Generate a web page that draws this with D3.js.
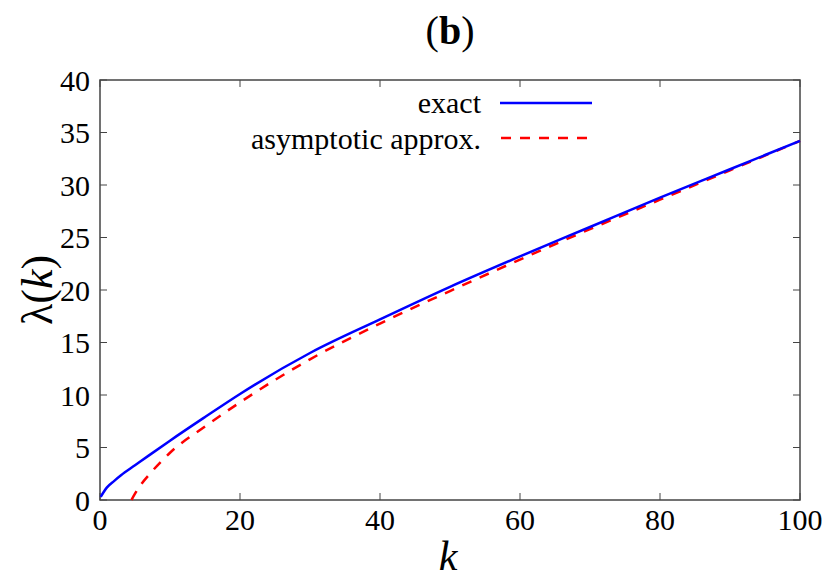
<!DOCTYPE html>
<html lang="en">
<head>
<meta charset="UTF-8">
<title>lambda(k)</title>
<script src="https://cdnjs.cloudflare.com/ajax/libs/d3/7.8.5/d3.min.js"></script>
<style>
  body { margin: 0; background: white; }
  svg text { font-family: "Liberation Serif", "DejaVu Serif", serif; fill: #000; }
</style>
</head>
<body>
<div id="chart"></div>
<script>
  // values
  const exactK   = [0.1, 1, 2, 3, 5, 7, 10, 15, 20, 30, 40, 50, 60, 70, 80, 90, 100];
  const exactL   = [0.3, 1.2, 1.8, 2.35, 3.3, 4.25, 5.65, 7.9, 10.1, 14.0, 17.2, 20.3, 23.2, 26.0, 28.8, 31.5, 34.2];
  const approxK  = [4.5, 5, 6, 7, 10, 15, 20, 30, 40, 50, 60, 70, 80, 90, 100];
  const approxL  = [0, 0.6, 1.6, 2.4, 4.5, 7.0, 9.3, 13.4, 16.8, 19.9, 22.9, 25.8, 28.6, 31.4, 34.2];
  const xTicks   = [0, 20, 40, 60, 80, 100];
  const yTicks   = [0, 5, 10, 15, 20, 25, 30, 35, 40];

  const W = 830, H = 581;
  const m = { left: 100, right: 30, top: 80, bottom: 81 };

  const svg = d3.select("#chart").append("svg")
      .attr("width", W).attr("height", H);

  const x = d3.scaleLinear().domain([0, 100]).range([m.left, W - m.right]);
  const y = d3.scaleLinear().domain([0, 40]).range([H - m.bottom, m.top]);

  const axisColor = "#444";
  const tickLen = 7;

  // ticks (inward, mirrored)
  const g = svg.append("g");
  xTicks.forEach(t => {
    g.append("line").attr("x1", x(t)).attr("x2", x(t))
      .attr("y1", y(0)).attr("y2", y(0) - tickLen).attr("stroke", axisColor);
    g.append("line").attr("x1", x(t)).attr("x2", x(t))
      .attr("y1", y(40)).attr("y2", y(40) + tickLen).attr("stroke", axisColor);
    g.append("text").attr("x", x(t)).attr("y", y(0) + 30)
      .attr("text-anchor", "middle").style("font-size", "30px").text(t);
  });
  yTicks.forEach(t => {
    g.append("line").attr("x1", x(0)).attr("x2", x(0) + tickLen)
      .attr("y1", y(t)).attr("y2", y(t)).attr("stroke", axisColor);
    g.append("line").attr("x1", x(100)).attr("x2", x(100) - tickLen)
      .attr("y1", y(t)).attr("y2", y(t)).attr("stroke", axisColor);
    g.append("text").attr("x", x(0) - 10).attr("y", y(t))
      .attr("dy", "0.35em").attr("text-anchor", "end")
      .style("font-size", "30px").text(t);
  });

  svg.append("rect").attr("x", x(0)).attr("y", y(40))
    .attr("width", x(100) - x(0)).attr("height", y(0) - y(40))
    .attr("fill", "none").attr("stroke", axisColor).attr("stroke-width", 1.5);

  const line = d3.line().curve(d3.curveMonotoneX)
    .x(d => x(d[0])).y(d => y(d[1]));

  svg.append("path").datum(approxK.map((k, i) => [k, approxL[i]]))
    .attr("d", line).attr("fill", "none")
    .attr("stroke", "#ff0000").attr("stroke-width", 2.5)
    .attr("stroke-dasharray", "10,9");

  svg.append("path").datum(exactK.map((k, i) => [k, exactL[i]]))
    .attr("d", line).attr("fill", "none")
    .attr("stroke", "#0000ff").attr("stroke-width", 2.5);

  // legend
  svg.append("text").attr("x", 481).attr("y", 113).attr("text-anchor", "end")
    .style("font-size", "30px").text("exact");
  svg.append("line").attr("x1", 500).attr("x2", 592).attr("y1", 103).attr("y2", 103)
    .attr("stroke", "#0000ff").attr("stroke-width", 2.5);
  svg.append("text").attr("x", 481).attr("y", 149).attr("text-anchor", "end")
    .style("font-size", "30px").text("asymptotic approx.");
  svg.append("line").attr("x1", 501).attr("x2", 592).attr("y1", 138).attr("y2", 138)
    .attr("stroke", "#ff0000").attr("stroke-width", 2.5)
    .attr("stroke-dasharray", "10,9");

  // title and axis labels
  const title = svg.append("text").attr("x", 450).attr("y", 44)
    .attr("text-anchor", "middle").style("font-size", "40px");
  title.append("tspan").text("(");
  title.append("tspan").style("font-weight", "bold").text("b");
  title.append("tspan").text(")");

  svg.append("text").attr("x", 448).attr("y", 570).attr("text-anchor", "middle")
    .style("font-size", "42px").style("font-style", "italic").text("k");

  const yl = svg.append("text").attr("transform", "translate(52,290) rotate(-90)")
    .attr("text-anchor", "middle").style("font-size", "44px");
  yl.append("tspan").text("λ(");
  yl.append("tspan").style("font-style", "italic").text("k");
  yl.append("tspan").text(")");
</script>
</body>
</html>
